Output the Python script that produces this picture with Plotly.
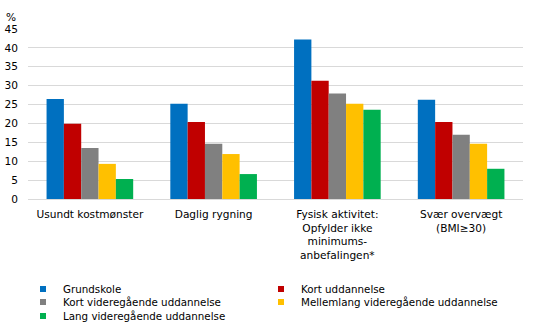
import plotly.graph_objects as go

categories = ["Usundt kostmønster", "Daglig rygning",
              "Fysisk aktivitet:<br>Opfylder ikke<br>minimums-<br>anbefalingen*",
              "Svær overvægt<br>(BMI≥30)"]
series_names = ["Grundskole", "Kort uddannelse", "Kort videregående uddannelse",
                "Mellemlang videregående uddannelse", "Lang videregående uddannelse"]
grundskole = [26.5, 25.2, 42.2, 26.3]
kort_uddannelse = [19.9, 20.4, 31.3, 20.4]
kort_videregaaende = [13.5, 14.6, 27.9, 17.0]
mellemlang_videregaaende = [9.3, 11.9, 25.2, 14.6]
lang_videregaaende = [5.3, 6.6, 23.6, 8.0]
colors = ["#0070C0", "#C00000", "#808080", "#FFC000", "#00B050"]
y_ticks = [0, 5, 10, 15, 20, 25, 30, 35, 40, 45]

values = [grundskole, kort_uddannelse, kort_videregaaende,
          mellemlang_videregaaende, lang_videregaaende]
legend_ids = ["legend", "legend", "legend2", "legend2", "legend3"]

FONT = "DejaVu Sans"
FS = 10.6
FS_LEG = 10.3
fig = go.Figure()
for name, vals, col in zip(series_names, values, colors):
    fig.add_trace(go.Bar(x=categories, y=vals, name=name, marker_color=col,
                         marker_line_width=0, showlegend=False))
for name, col, lg in zip(series_names, colors, legend_ids):
    fig.add_trace(go.Scatter(x=[None], y=[None], mode="markers", name=name,
                             marker=dict(symbol="square", size=6, color=col),
                             legend=lg, showlegend=True))

W, H = 535, 332
def legend_cfg(ypx):
    return dict(orientation="h", xref="container", yref="container",
                x=23 / W, xanchor="left", y=1 - ypx / H, yanchor="middle",
                entrywidth=193, font=dict(family=FONT, size=FS_LEG, color="#000000"),
                bgcolor="rgba(0,0,0,0)", itemclick=False, traceorder="normal")

fig.update_layout(
    width=W, height=H,
    margin=dict(l=28, r=12, t=29, b=133, autoexpand=False),
    paper_bgcolor="white", plot_bgcolor="white",
    barmode="group", bargap=0.30, bargroupgap=0,
    font=dict(family=FONT, size=FS, color="#000000"),
    xaxis=dict(showgrid=False, showline=True, linecolor="#D9D9D9", linewidth=1,
               ticks="", tickfont=dict(family=FONT, size=FS), tickangle=0,
               ticklabelstandoff=5, automargin=False),
    yaxis=dict(range=[0, 45], tickvals=y_ticks, showgrid=True, gridcolor="#D9D9D9",
               gridwidth=1, zeroline=False, showline=False, ticks="",
               tickfont=dict(family=FONT, size=FS), ticklabelstandoff=9,
               automargin=False),
    legend=legend_cfg(289),
    legend2=legend_cfg(302),
    legend3=legend_cfg(316),
    annotations=[dict(text="%", xref="paper", yref="paper", x=(11 - 28) / 495, y=1.0,
                      yshift=12, xanchor="center", yanchor="middle", showarrow=False,
                      font=dict(family=FONT, size=FS))],
)
fig.write_html("out.html")
